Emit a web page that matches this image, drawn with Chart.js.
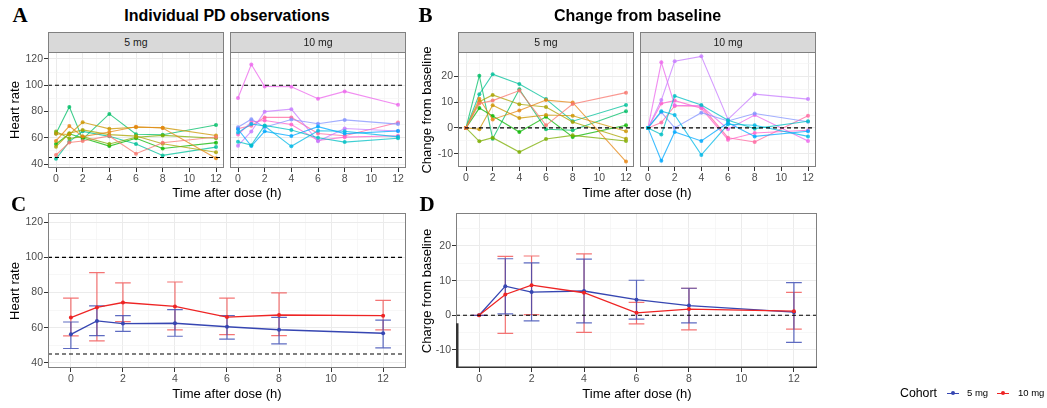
<!DOCTYPE html>
<html>
<head>
<meta charset="utf-8">
<script src="https://cdn.jsdelivr.net/npm/chart.js@4.4.1/dist/chart.umd.min.js"></script>
<style>
body{margin:0;background:#fff;width:1047px;height:408px;position:relative;overflow:hidden;font-family:"Liberation Sans",Arial,sans-serif}
.c{position:absolute;transform:translate(-50%,-50%);line-height:1;white-space:nowrap;color:#000}
.l{position:absolute;transform:translate(0,-50%);line-height:1;white-space:nowrap;color:#000}
.letter{font-family:"Liberation Serif","Times New Roman",serif;font-weight:bold;font-size:21px}
.head{font-weight:bold;font-size:16px}
.axt{font-size:13px}
.rot{transform:translate(-50%,-50%) rotate(-90deg)}
.strip{position:absolute;box-sizing:border-box;background:#D9D9D9;border:1px solid #808080;height:21px;font-size:10.5px;color:#1A1A1A;line-height:19px;text-align:center}
canvas{position:absolute}
</style>
</head>
<body>
<script>
// sampling times (h)
const times = [0, 1, 2, 4, 6, 8, 12];

// individual heart rate, one row per subject
const hr5mg = [
  [46.9, 56.4, 57.5, 61.4, 47.9, 56.2, 60.6],
  [57.6, 68.9, 60.9, 64.4, 68.4, 67.5, 44.5],
  [63.0, 62.5, 71.8, 66.8, 68.0, 67.7, 61.7],
  [53.2, 63.4, 66.0, 62.4, 61.3, 55.5, 49.0],
  [64.7, 59.5, 60.9, 55.3, 60.4, 61.8, 59.6],
  [55.3, 63.0, 59.9, 53.7, 59.6, 51.8, 56.3],
  [63.2, 83.5, 59.0, 78.2, 62.7, 62.3, 69.7],
  [44.0, 57.1, 64.9, 61.1, 55.2, 46.6, 52.9]
];
const hr10mg = [
  [57.0, 54.4, 69.4, 65.9, 60.0, 56.7, 59.6],
  [64.0, 70.5, 69.0, 53.5, 65.4, 65.0, 60.7],
  [66.5, 53.7, 64.9, 61.4, 68.5, 63.2, 65.2],
  [68.0, 74.1, 68.0, 73.9, 70.7, 73.6, 70.4],
  [54.0, 64.8, 79.9, 81.8, 57.3, 67.1, 65.2],
  [90.3, 115.8, 99.1, 98.8, 89.8, 95.3, 85.2],
  [62.5, 72.0, 73.1, 70.1, 57.9, 60.5, 61.6],
  [67.0, 69.1, 75.5, 75.5, 63.2, 61.5, 71.7]
];
// change from baseline, same subjects
const cfb5mg = [
  [0, 9.5, 10.6, 14.5, 1.0, 9.3, 13.7],
  [0, 11.3, 3.3, 6.8, 10.8, 9.9, -13.1],
  [0, -0.5, 8.8, 3.8, 5.0, 4.7, -1.3],
  [0, 10.2, 12.8, 9.2, 8.1, 2.3, -4.2],
  [0, -5.2, -3.8, -9.4, -4.3, -2.9, -5.1],
  [0, 7.7, 4.6, -1.6, 4.3, -3.5, 1.0],
  [0, 20.3, -4.2, 15.0, -0.5, -0.9, 6.5],
  [0, 13.1, 20.9, 17.1, 11.2, 2.6, 8.9]
];
const cfb10mg = [
  [0, -2.6, 12.4, 8.9, 3.0, -0.3, 2.6],
  [0, 6.5, 5.0, -10.5, 1.4, 1.0, -3.3],
  [0, -12.8, -1.6, -5.1, 2.0, -3.3, -1.3],
  [0, 6.1, 0.0, 5.9, 2.7, 5.6, 2.4],
  [0, 10.8, 25.9, 27.8, 3.3, 13.1, 11.2],
  [0, 25.5, 8.8, 8.5, -0.5, 5.0, -5.1],
  [0, 9.5, 10.6, 7.6, -4.6, -2.0, -0.9],
  [0, 2.1, 8.5, 8.5, -3.8, -5.5, 4.7]
];
const colors5mg = ['#F8766D','#E68613','#CD9600','#ABA300','#7CAE00','#0CB702','#00BE67','#00C19A'];
const colors10mg = ['#00BFC4','#00B8E7','#00A9FF','#8494FF','#C77CFF','#ED68ED','#FF61CC','#FF68A1'];

// cohort summaries (mean, lower, upper)
const hrMean5 = [56.2, 63.8, 62.3, 62.5, 60.5, 58.8, 56.8];
const hrLo5   = [48.1, 55.5, 57.9, 55.1, 53.4, 50.8, 48.5];
const hrHi5   = [63.2, 72.4, 66.8, 70.2, 66.8, 65.8, 64.3];
const hrMean10 = [65.7, 71.5, 74.3, 72.1, 66.0, 67.2, 66.8];
const hrLo10   = [55.3, 52.5, 63.4, 58.7, 56.0, 55.5, 58.7];
const hrHi10   = [76.8, 91.3, 85.5, 86.0, 76.8, 79.8, 75.5];
const cfbMean5 = [0, 8.4, 6.7, 7.0, 4.5, 2.8, 0.9];
const cfbLo5   = [0, 0.4, -1.6, -2.2, -1.1, -2.2, -7.8];
const cfbHi5   = [0, 16.3, 15.1, 16.2, 10.1, 7.8, 9.4];
const cfbMean10 = [0, 6.0, 8.7, 6.5, 0.7, 1.8, 1.2];
const cfbLo10   = [0, -5.2, 0.2, -4.9, -2.5, -4.2, -4.0];
const cfbHi10   = [0, 17.0, 17.1, 17.7, 3.7, 7.8, 6.6];
const cohortBlue = '#3646B2', cohortRed = '#EE2424';

// axes
const xMajor = [0, 2, 4, 6, 8, 10, 12];
const xAll = [0, 1, 2, 3, 4, 5, 6, 7, 8, 9, 10, 11, 12];
const hrMajor = [40, 60, 80, 100, 120];
const hrAll = [40, 50, 60, 70, 80, 90, 100, 110, 120];
const cfbMajor = [-10, 0, 10, 20];
const cfbAll = [-15, -10, -5, 0, 5, 10, 15, 20, 25];
const hrRefs = [45, 100];
const cfbRefs = [0];
const hrRange = [37, 125.3], cfbRange = [-15.2, 29.5];
const facetX = [-0.6, 12.6], summaryX = [-0.88, 12.88];
const capWidth = 0.6;

const FONT = '"Liberation Sans", Arial, sans-serif';

const panelBox = {
  id: 'panelBox',
  afterDraw(chart, args, opts) {
    const a = chart.chartArea, ctx = chart.ctx;
    ctx.save();
    ctx.strokeStyle = '#808080'; ctx.lineWidth = 1;
    ctx.strokeRect(a.left + 0.5, a.top + 0.5, a.right - a.left - 1, a.bottom - a.top - 1);
    if (opts.accentFrom != null) {
      // dark axis line along the bottom and lower part of the left edge
      const y0 = chart.scales.y.getPixelForValue(opts.accentFrom);
      ctx.strokeStyle = '#333333'; ctx.lineWidth = 1.5;
      ctx.beginPath();
      ctx.moveTo(a.left, a.bottom - 0.75); ctx.lineTo(a.right, a.bottom - 0.75);
      ctx.stroke();
      ctx.lineWidth = 2.5;
      ctx.beginPath();
      ctx.moveTo(a.left + 1.25, y0); ctx.lineTo(a.left + 1.25, a.bottom);
      ctx.stroke();
    }
    ctx.restore();
  }
};

const errorBars = {
  id: 'errorBars',
  beforeDatasetsDraw(chart) {
    const ctx = chart.ctx, x = chart.scales.x, y = chart.scales.y;
    ctx.save();
    ctx.beginPath();
    ctx.rect(chart.chartArea.left, chart.chartArea.top, chart.chartArea.width, chart.chartArea.height);
    ctx.clip();
    chart.data.datasets.forEach(ds => {
      if (!ds.errLo) return;
      ctx.strokeStyle = ds.errColor; ctx.lineWidth = 1.2;
      ds.data.forEach((p, j) => {
        const px = x.getPixelForValue(p.x);
        const hw = x.getPixelForValue(p.x + capWidth / 2) - px;
        const yl = y.getPixelForValue(ds.errLo[j]), yh = y.getPixelForValue(ds.errHi[j]);
        ctx.beginPath();
        ctx.moveTo(px, yl); ctx.lineTo(px, yh);
        ctx.moveTo(px - hw, yl); ctx.lineTo(px + hw, yl);
        ctx.moveTo(px - hw, yh); ctx.lineTo(px + hw, yh);
        ctx.stroke();
      });
    });
    ctx.restore();
  }
};

function axis(range, all, major, showLabels, size) {
  return {
    type: 'linear', min: range[0], max: range[1],
    afterBuildTicks: s => { s.ticks = all.map(v => ({ value: v })); },
    afterFit: s => { if (s.isHorizontal()) s.height = size; else s.width = size; },
    border: { display: false },
    grid: {
      color: c => major.includes(c.tick.value) ? '#EBEBEB' : '#F3F3F3',
      lineWidth: c => major.includes(c.tick.value) ? 1 : 0.7,
      drawTicks: showLabels,
      tickLength: 4,
      tickColor: c => major.includes(c.tick.value) ? '#333333' : 'rgba(0,0,0,0)'
    },
    ticks: {
      display: showLabels,
      autoSkip: false, maxRotation: 0,
      padding: 1,
      color: '#4D4D4D',
      font: { family: FONT, size: 10.5 },
      callback: v => major.includes(v) ? String(v) : ''
    }
  };
}

function refLines(refs, xr) {
  return refs.map(v => ({
    data: [{ x: xr[0], y: v }, { x: xr[1], y: v }],
    borderColor: '#000', borderWidth: 1.1, borderDash: [4, 3],
    pointRadius: 0, fill: false
  }));
}

function subjectLines(rows, colors) {
  return rows.map((row, i) => ({
    data: times.map((t, j) => ({ x: t, y: row[j] })),
    borderColor: colors[i] + 'C0', backgroundColor: colors[i] + 'D0',
    borderWidth: 1.1, pointRadius: 2, pointBorderWidth: 0, fill: false
  }));
}

function cohortLine(mean, lo, hi, color, errColor) {
  return {
    data: times.map((t, j) => ({ x: t, y: mean[j] })),
    borderColor: color, backgroundColor: color,
    borderWidth: 1.3, pointRadius: 2, pointBorderWidth: 0, fill: false,
    errLo: lo, errHi: hi, errColor: errColor
  };
}

// box = plot area in page pixels; generous padding so tick-label overflow never shrinks the plot
function panel(box, yW, xr, yr, yAll, yMajor, datasets, plugins, boxOpts) {
  const pad = 12, xH = 18;
  const c = document.createElement('canvas');
  const w = box.r - box.l + yW + 2 * pad, h = box.b - box.t + xH + 2 * pad;
  c.width = w; c.height = h;
  c.style.left = (box.l - yW - pad) + 'px';
  c.style.top = (box.t - pad) + 'px';
  c.style.width = w + 'px'; c.style.height = h + 'px';
  document.body.appendChild(c);
  return new Chart(c, {
    type: 'line',
    data: { datasets: datasets },
    options: {
      responsive: false, animation: false, devicePixelRatio: 1,
      layout: { padding: pad },
      plugins: {
        legend: { display: false }, tooltip: { enabled: false }, title: { display: false },
        panelBox: boxOpts || {}
      },
      scales: {
        x: axis(xr, xAll, xMajor, true, xH),
        y: axis(yr, yAll, yMajor, yW > 0, yW)
      }
    },
    plugins: plugins
  });
}

// A: individual heart rate
panel({ l: 48, t: 52, r: 224, b: 168 }, 30, facetX, hrRange, hrAll, hrMajor,
  refLines(hrRefs, facetX).concat(subjectLines(hr5mg, colors5mg)), [panelBox]);
panel({ l: 230, t: 52, r: 406, b: 168 }, 0, facetX, hrRange, hrAll, hrMajor,
  refLines(hrRefs, facetX).concat(subjectLines(hr10mg, colors10mg)), [panelBox]);
// B: individual change from baseline
panel({ l: 458, t: 52, r: 634, b: 167 }, 30, facetX, cfbRange, cfbAll, cfbMajor,
  refLines(cfbRefs, facetX).concat(subjectLines(cfb5mg, colors5mg)), [panelBox]);
panel({ l: 640, t: 52, r: 816, b: 167 }, 0, facetX, cfbRange, cfbAll, cfbMajor,
  refLines(cfbRefs, facetX).concat(subjectLines(cfb10mg, colors10mg)), [panelBox]);
// C: cohort heart rate
panel({ l: 48, t: 213, r: 406, b: 368 }, 30, summaryX, hrRange, hrAll, hrMajor,
  refLines(hrRefs, summaryX).concat([
    cohortLine(hrMean10, hrLo10, hrHi10, cohortRed, 'rgba(240,70,70,0.75)'),
    cohortLine(hrMean5, hrLo5, hrHi5, cohortBlue, 'rgba(54,70,178,0.8)')
  ]), [panelBox, errorBars]);
// D: cohort change from baseline
panel({ l: 456, t: 213, r: 817, b: 368 }, 30, summaryX, cfbRange, cfbAll, cfbMajor,
  refLines(cfbRefs, summaryX).concat([
    cohortLine(cfbMean10, cfbLo10, cfbHi10, cohortRed, 'rgba(240,70,70,0.75)'),
    cohortLine(cfbMean5, cfbLo5, cfbHi5, cohortBlue, 'rgba(54,70,178,0.8)')
  ]), [panelBox, errorBars], { accentFrom: -2.3 });

// text
function text(cls, s, x, y, style) {
  const d = document.createElement('div');
  d.className = cls; d.textContent = s;
  d.style.left = x + 'px'; d.style.top = y + 'px';
  if (style) d.style.cssText += style;
  document.body.appendChild(d);
  return d;
}
function strip(s, l, r) {
  const d = document.createElement('div');
  d.className = 'strip'; d.textContent = s;
  d.style.left = l + 'px'; d.style.top = '32px'; d.style.width = (r - l) + 'px';
  document.body.appendChild(d);
}
text('c letter', 'A', 20, 15);
text('c letter', 'B', 425.5, 15);
text('c letter', 'C', 18.5, 203.5);
text('c letter', 'D', 427, 203.5);
text('c head', 'Individual PD observations', 227, 16);
text('c head', 'Change from baseline', 637.5, 16);
strip('5 mg', 48, 224); strip('10 mg', 230, 406);
strip('5 mg', 458, 634); strip('10 mg', 640, 816);
text('c axt rot', 'Heart rate', 14, 110);
text('c axt rot', 'Change from baseline', 426, 110);
text('c axt rot', 'Heart rate', 14, 290.5);
text('c axt rot', 'Charge from baseline', 426, 290.5);
text('c axt', 'Time after dose (h)', 227, 192);
text('c axt', 'Time after dose (h)', 637, 192);
text('c axt', 'Time after dose (h)', 227, 393);
text('c axt', 'Time after dose (h)', 637, 393);

// legend
text('l', 'Cohort', 900, 393, 'font-size:12.3px');
function key(x, color) {
  const ln = document.createElement('div');
  ln.style.cssText = `position:absolute;left:${x}px;top:392.5px;width:12px;height:1.2px;background:${color}`;
  const dot = document.createElement('div');
  dot.style.cssText = `position:absolute;left:${x + 4}px;top:391px;width:4px;height:4px;border-radius:2px;background:${color}`;
  document.body.appendChild(ln); document.body.appendChild(dot);
}
key(947, cohortBlue);
text('l', '5 mg', 967, 393, 'font-size:9.5px');
key(997, cohortRed);
text('l', '10 mg', 1018, 393, 'font-size:9.5px');
</script>
</body>
</html>
